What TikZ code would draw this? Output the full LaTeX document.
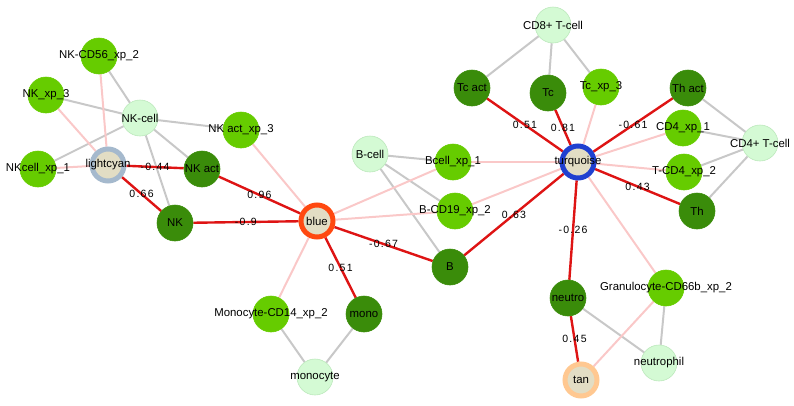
\documentclass[tikz,border=0pt]{standalone}
\usepackage{fontspec}
\setmainfont{Liberation Sans}
\usetikzlibrary{backgrounds}
\definecolor{dkgreen}{RGB}{58,140,10}
\definecolor{mdgreen}{RGB}{102,204,0}
\definecolor{ltgreen}{RGB}{212,250,212}
\definecolor{ltborder}{RGB}{188,232,188}
\definecolor{hubfill}{RGB}{226,221,196}
\definecolor{redE}{RGB}{222,20,20}
\definecolor{pinkE}{RGB}{250,200,200}
\definecolor{greyE}{RGB}{200,200,200}
\definecolor{blueB}{RGB}{255,72,16}
\definecolor{turqB}{RGB}{32,64,208}
\definecolor{lcB}{RGB}{165,185,205}
\definecolor{tanB}{RGB}{255,200,145}
\begin{document}
\begin{tikzpicture}[x=1pt,y=-1pt,
  base/.style={circle, minimum size=36pt, inner sep=0pt},
  dk/.style={base, fill=dkgreen, draw=dkgreen, line width=0.6pt},
  md/.style={base, fill=mdgreen, draw=mdgreen, line width=0.6pt},
  lt/.style={base, fill=ltgreen, draw=ltborder, line width=0.6pt},
  hub/.style={circle, inner sep=0pt, minimum size=32pt, fill=hubfill, line width=5pt},
  txt/.style={font=\fontsize{11.4}{13}\selectfont, text=black, inner sep=0pt},
  greyedge/.style={draw=greyE, line width=2pt},
  pinkedge/.style={draw=pinkE, line width=2pt},
  rededge/.style={draw=redE, line width=2.4pt},
  elab/.style={font=\fontsize{10.5}{12}\selectfont\addfontfeature{LetterSpace=12}, text=black, inner sep=0pt, midway}
]
\useasboundingbox (0,0) rectangle (794,405);
% nodes
\node[md] (nkcd) at (99,56) {};
\node[md] (nkxp3) at (46,95) {};
\node[lt] (nkcell) at (140,118) {};
\node[md] (nkactxp) at (241,130) {};
\node[md] (nkcellxp) at (38,169) {};
\node[hub, draw=lcB] (lc) at (108,165) {};
\node[dk] (nkact) at (202,169) {};
\node[dk] (nk) at (175,223) {};
\node[hub, draw=blueB] (blue) at (317,221) {};
\node[lt] (bcell) at (370,154) {};
\node[md] (bxp1) at (453,162) {};
\node[md] (bcd19) at (455,211) {};
\node[dk] (b) at (450,267) {};
\node[md] (mcd14) at (271,314) {};
\node[dk] (mono) at (364,314) {};
\node[lt] (monocyte) at (315,377) {};
\node[lt] (cd8) at (553,25) {};
\node[dk] (tcact) at (472,88) {};
\node[dk] (tc) at (548,93) {};
\node[md] (tcxp3) at (601,87) {};
\node[dk] (thact) at (688,88) {};
\node[md] (cd4xp1) at (683,128) {};
\node[lt] (cd4) at (760,143) {};
\node[md] (tcd4) at (684,172) {};
\node[dk] (th) at (697,211) {};
\node[hub, draw=turqB] (turq) at (578,162) {};
\node[dk] (neutro) at (568,298) {};
\node[md] (gran) at (666,288) {};
\node[lt] (neutrophil) at (659,363) {};
\node[hub, draw=tanB] (tan) at (581,380) {};
% edges
\begin{scope}[on background layer]
\draw[greyedge] (nkcd) -- (nkcell);
\draw[greyedge] (nkxp3) -- (nkcell);
\draw[greyedge] (nkcell) -- (nkactxp);
\draw[greyedge] (nkcell) -- (nkcellxp);
\draw[greyedge] (nkcell) -- (nkact);
\draw[greyedge] (nkcell) -- (nk);
\draw[greyedge] (bcell) -- (bxp1);
\draw[greyedge] (bcell) -- (bcd19);
\draw[greyedge] (bcell) -- (b);
\draw[greyedge] (mcd14) -- (monocyte);
\draw[greyedge] (mono) -- (monocyte);
\draw[greyedge] (cd8) -- (tcact);
\draw[greyedge] (cd8) -- (tc);
\draw[greyedge] (cd8) -- (tcxp3);
\draw[greyedge] (thact) -- (cd4);
\draw[greyedge] (cd4xp1) -- (cd4);
\draw[greyedge] (tcd4) -- (cd4);
\draw[greyedge] (th) -- (cd4);
\draw[greyedge] (neutro) -- (neutrophil);
\draw[greyedge] (gran) -- (neutrophil);
\draw[pinkedge] (lc) -- (nkcd);
\draw[pinkedge] (lc) -- (nkxp3);
\draw[pinkedge] (lc) -- (nkcellxp);
\draw[pinkedge] (blue) -- (nkactxp);
\draw[pinkedge] (blue) -- (bxp1);
\draw[pinkedge] (blue) -- (bcd19);
\draw[pinkedge] (blue) -- (mcd14);
\draw[pinkedge] (turq) -- (tcxp3);
\draw[pinkedge] (turq) -- (cd4xp1);
\draw[pinkedge] (turq) -- (tcd4);
\draw[pinkedge] (turq) -- (bxp1);
\draw[pinkedge] (turq) -- (bcd19);
\draw[pinkedge] (turq) -- (gran);
\draw[pinkedge] (tan) -- (gran);
\draw[rededge] (lc) -- (nkact);
\draw[rededge] (lc) -- (nk);
\draw[rededge] (nkact) -- (blue);
\draw[rededge] (nk) -- (blue);
\draw[rededge] (blue) -- (b);
\draw[rededge] (blue) -- (mono);
\draw[rededge] (turq) -- (tcact);
\draw[rededge] (turq) -- (tc);
\draw[rededge] (turq) -- (thact);
\draw[rededge] (turq) -- (th);
\draw[rededge] (turq) -- (b);
\draw[rededge] (turq) -- (neutro);
\draw[rededge] (neutro) -- (tan);
\end{scope}
% edge labels
\path (lc) -- node[elab] {-0.44} (nkact);
\path (lc) -- node[elab] {0.66} (nk);
\path (nkact) -- node[elab] {0.96} (blue);
\path (nk) -- node[elab] {-0.9} (blue);
\path (blue) -- node[elab] {-0.67} (b);
\path (blue) -- node[elab] {0.51} (mono);
\path (tcact) -- node[elab] {0.51} (turq);
\path (tc) -- node[elab] {0.81} (turq);
\path (thact) -- node[elab] {-0.61} (turq);
\path (th) -- node[elab] {0.43} (turq);
\path (b) -- node[elab] {0.63} (turq);
\path (turq) -- node[elab] {-0.26} (neutro);
\path (neutro) -- node[elab] {0.45} (tan);
% node texts
\node[txt] at (nkcd) {NK-CD56\_xp\_2};
\node[txt] at (nkxp3) {NK\_xp\_3};
\node[txt] at (nkcell) {NK-cell};
\node[txt] at (nkactxp) {NK act\_xp\_3};
\node[txt] at (nkcellxp) {NKcell\_xp\_1};
\node[txt] at (lc) {lightcyan};
\node[txt] at (nkact) {NK act};
\node[txt] at (nk) {NK};
\node[txt] at (blue) {blue};
\node[txt] at (bcell) {B-cell};
\node[txt] at (bxp1) {Bcell\_xp\_1};
\node[txt] at (bcd19) {B-CD19\_xp\_2};
\node[txt] at (b) {B};
\node[txt] at (mcd14) {Monocyte-CD14\_xp\_2};
\node[txt] at (mono) {mono};
\node[txt] at (monocyte) {monocyte};
\node[txt] at (cd8) {CD8+ T-cell};
\node[txt] at (tcact) {Tc act};
\node[txt] at (tc) {Tc};
\node[txt] at (tcxp3) {Tc\_xp\_3};
\node[txt] at (thact) {Th act};
\node[txt] at (cd4xp1) {CD4\_xp\_1};
\node[txt] at (cd4) {CD4+ T-cell};
\node[txt] at (tcd4) {T-CD4\_xp\_2};
\node[txt] at (th) {Th};
\node[txt] at (turq) {turquoise};
\node[txt] at (neutro) {neutro};
\node[txt] at (gran) {Granulocyte-CD66b\_xp\_2};
\node[txt] at (neutrophil) {neutrophil};
\node[txt] at (tan) {tan};
\end{tikzpicture}
\end{document}
